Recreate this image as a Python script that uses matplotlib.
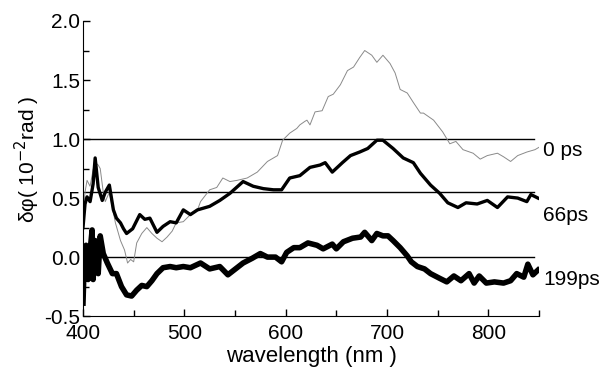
import matplotlib
matplotlib.use("Agg")
import matplotlib.pyplot as plt
from matplotlib.ticker import MultipleLocator

plt.rcParams['font.family'] = ['Liberation Sans', 'DejaVu Sans']

# 0 ps (thin grey)
wl_0 = [400, 402, 404, 407, 410, 412, 415, 417, 420, 422, 426, 429, 432, 435, 437, 441, 444, 447,
        450, 453, 458, 463, 468, 473, 478, 483, 488, 492, 499, 506, 513, 516, 525, 532, 538, 545,
        552, 562, 572, 582, 592, 597, 604, 611, 614, 619, 621, 624, 629, 636, 642, 647, 654, 661,
        667, 673, 678, 685, 690, 696, 703, 708, 713, 720, 726, 733, 736, 746, 755, 762, 768, 775,
        785, 792, 799, 809, 815, 822, 829, 838, 846, 850]
val_0 = [0.35, 0.55, 0.65, 0.60, 0.74, 0.80, 0.78, 0.75, 0.55, 0.47, 0.55, 0.42, 0.29, 0.20, 0.14,
         0.06, -0.05, -0.02, -0.04, 0.12, 0.20, 0.25, 0.20, 0.16, 0.13, 0.17, 0.22, 0.29, 0.30, 0.36,
         0.40, 0.47, 0.57, 0.59, 0.67, 0.64, 0.65, 0.67, 0.72, 0.81, 0.86, 0.99, 1.05, 1.09, 1.12,
         1.15, 1.16, 1.12, 1.23, 1.24, 1.36, 1.38, 1.46, 1.58, 1.61, 1.69, 1.75, 1.71, 1.65, 1.71,
         1.64, 1.56, 1.42, 1.39, 1.31, 1.22, 1.22, 1.16, 1.06, 0.96, 0.98, 0.91, 0.88, 0.83, 0.86,
         0.88, 0.85, 0.81, 0.86, 0.89, 0.91, 0.93]

# 66 ps (medium black)
wl_66 = [400, 402, 404, 407, 410, 412, 415, 419, 422, 426, 430, 433, 437, 440, 443, 449, 456, 461,
         466, 473, 479, 486, 492, 499, 506, 513, 525, 535, 545, 558, 568, 578, 588, 596, 604, 614,
         624, 634, 639, 646, 656, 664, 673, 681, 690, 696, 706, 716, 726, 733, 743, 752, 760, 770,
         778, 789, 799, 809, 819, 829, 838, 842, 849]
val_66 = [0.25, 0.45, 0.51, 0.47, 0.62, 0.84, 0.59, 0.48, 0.55, 0.61, 0.40, 0.33, 0.29, 0.24,
          0.20, 0.24, 0.36, 0.32, 0.33, 0.21, 0.26, 0.30, 0.29, 0.40, 0.36, 0.40, 0.43, 0.48,
          0.54, 0.64, 0.60, 0.58, 0.57, 0.57, 0.67, 0.69, 0.76, 0.78, 0.80, 0.72, 0.80, 0.86,
          0.89, 0.92, 0.99, 0.99, 0.92, 0.84, 0.80, 0.71, 0.61, 0.54, 0.46, 0.42, 0.46, 0.45,
          0.48, 0.42, 0.51, 0.50, 0.47, 0.53, 0.50]

# 199 ps (thick black)
wl_199 = [400, 401, 402, 403, 405, 407, 409, 410, 412, 415, 417, 420, 424, 429, 433, 438, 443, 448,
          453, 458, 463, 468, 473, 479, 486, 492, 499, 506, 516, 525, 535, 543, 552, 558, 567, 575,
          582, 590, 596, 601, 608, 614, 622, 631, 637, 646, 650, 657, 666, 674, 678, 685, 690, 696,
          701, 706, 713, 720, 724, 730, 737, 743, 752, 759, 766, 773, 781, 786, 791, 798, 806, 815,
          822, 828, 835, 839, 844, 849]
val_199 = [-0.39, -0.10, 0.03, 0.10, -0.19, 0.05, 0.23, -0.19, 0.14, -0.14, 0.18, 0.03, -0.05,
           -0.14, -0.14, -0.25, -0.32, -0.33, -0.28, -0.24, -0.25, -0.20, -0.14, -0.09, -0.08,
           -0.09, -0.08, -0.09, -0.05, -0.10, -0.08, -0.15, -0.09, -0.05, -0.01, 0.03, 0.00, 0.00,
           -0.04, 0.04, 0.08, 0.08, 0.12, 0.10, 0.07, 0.11, 0.07, 0.13, 0.16, 0.17, 0.21, 0.14,
           0.20, 0.18, 0.18, 0.14, 0.08, 0.01, -0.04, -0.08, -0.10, -0.14, -0.18, -0.21, -0.16,
           -0.20, -0.14, -0.22, -0.16, -0.22, -0.21, -0.22, -0.20, -0.14, -0.17, -0.06, -0.15, -0.11]

baselines = [1.0, 0.55, 0.0]
labels = ["0 ps", "66ps", "199ps"]
label_y = [0.90, 0.35, -0.19]


def main():
    fig = plt.figure(figsize=(6.08, 3.75), dpi=100)
    ax = fig.add_axes([0.1365, 0.157, 0.75, 0.787])

    for b in baselines:
        ax.plot([400, 845], [b, b], color="black", lw=1.0)

    ax.plot(wl_0, val_0, color="#8a8a8a", lw=0.7)
    ax.plot(wl_66, val_66, color="black", lw=2.4)
    ax.plot(wl_199, val_199, color="black", lw=4.0)

    for lab, y in zip(labels, label_y):
        ax.text(854, y, lab, fontsize=15, va="center", ha="left")

    ax.set_xlim(400, 850)
    ax.set_ylim(-0.5, 2.0)
    ax.xaxis.set_major_locator(MultipleLocator(100))
    ax.xaxis.set_minor_locator(MultipleLocator(50))
    ax.yaxis.set_minor_locator(MultipleLocator(0.25))
    ax.set_yticks([-0.5, 0.0, 0.5, 1.0, 1.5, 2.0])
    ax.set_yticklabels(["-0.5", "0.0", "0.5", "1.0", "1.5", "2.0"])
    ax.tick_params(which="both", direction="in", labelsize=15, width=1)
    ax.tick_params(which="major", length=5, pad=2)
    ax.tick_params(axis="x", which="major", pad=6)
    ax.tick_params(which="minor", length=4)
    for s in ["top", "right"]:
        ax.spines[s].set_visible(False)

    ax.set_xlabel("wavelength (nm )", fontsize=16, labelpad=2)
    ax.set_ylabel("δφ( 10$^{-2}$rad )", fontsize=15)
    ax.yaxis.set_label_coords(-0.09, 0.53)

    fig.savefig("out.png", dpi=100)
    plt.close(fig)


if __name__ == "__main__":
    main()
